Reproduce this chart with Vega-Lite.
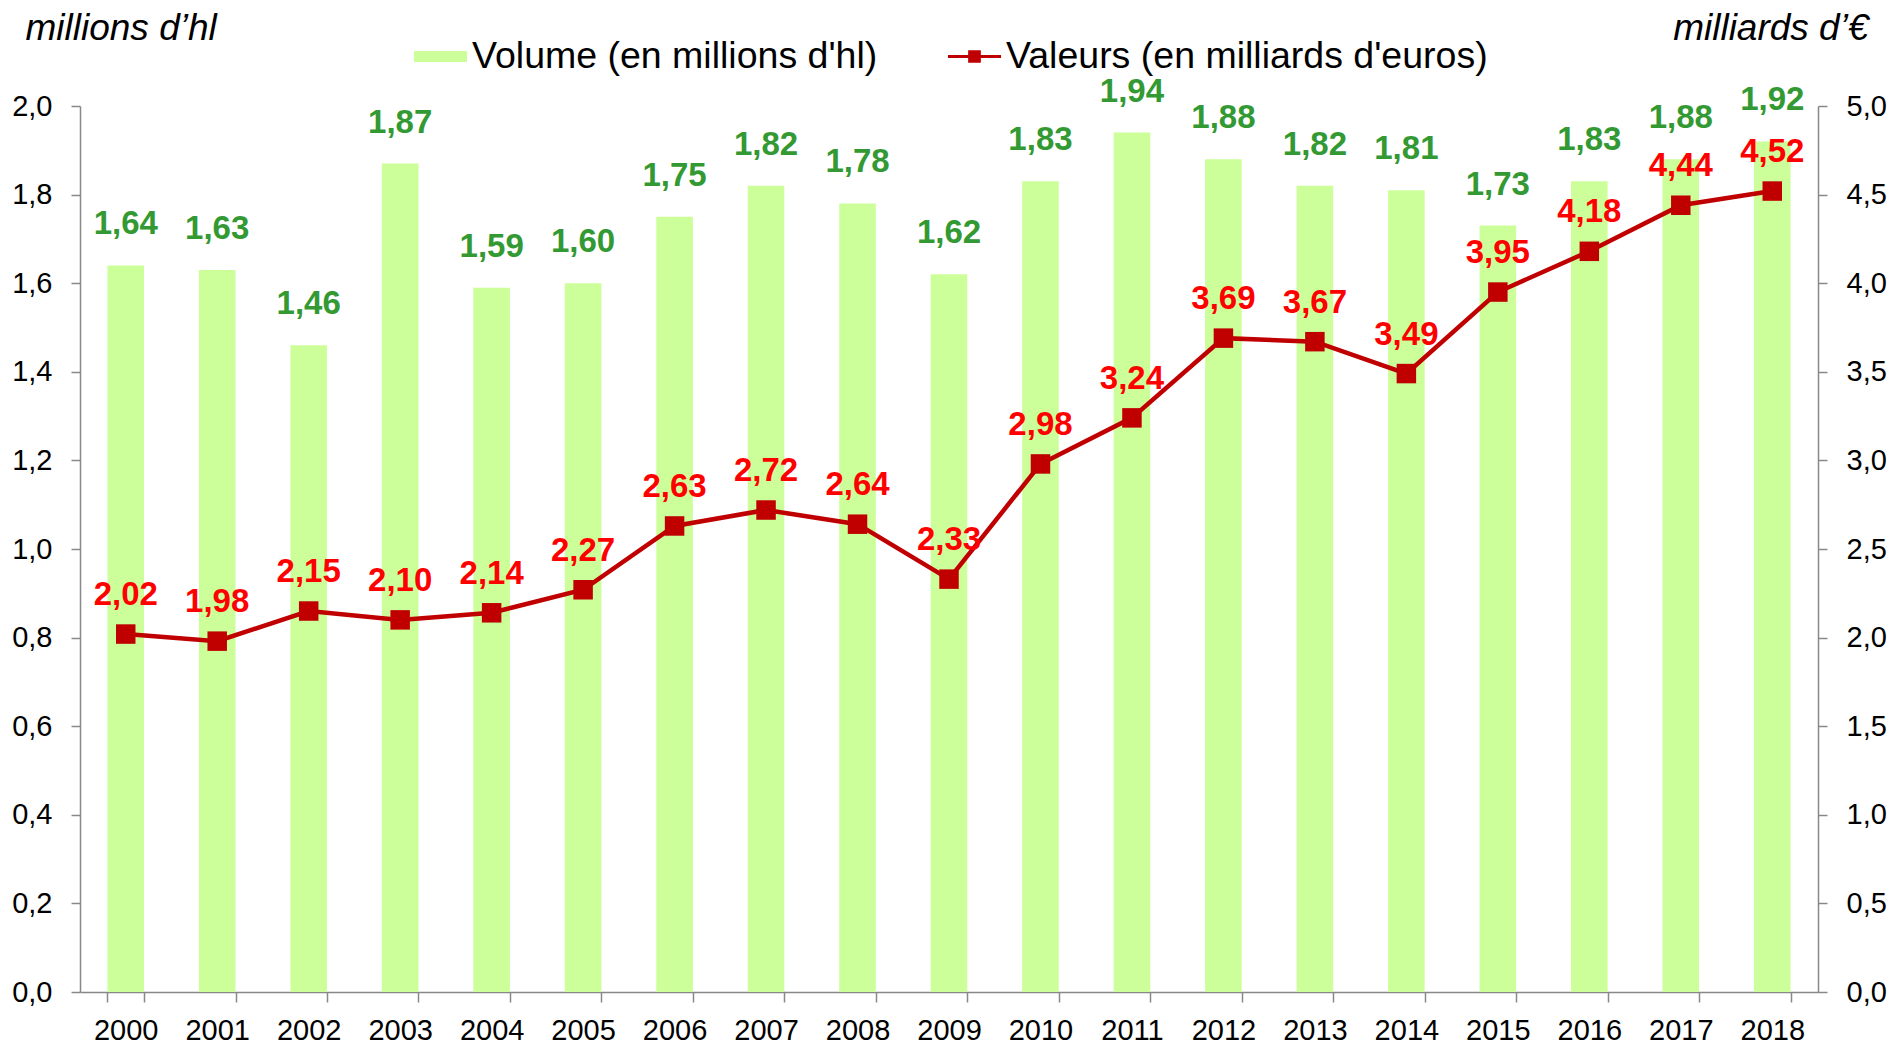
{
  "$schema": "https://vega.github.io/schema/vega-lite/v6.json",
  "width": 1738,
  "height": 886,
  "autosize": {"type": "none"},
  "padding": {"left": 80, "top": 106, "right": 79, "bottom": 52},
  "background": "white",
  "config": {
    "locale": {"number": {"decimal": ",", "thousands": " ", "grouping": [3], "currency": ["", " €"]}},
    "view": {"stroke": null},
    "font": "Liberation Sans"
  },
  "data": {
    "values": [
      {"annee": "2000", "volume": 1.64, "valeur": 2.02},
      {"annee": "2001", "volume": 1.63, "valeur": 1.98},
      {"annee": "2002", "volume": 1.46, "valeur": 2.15},
      {"annee": "2003", "volume": 1.87, "valeur": 2.10},
      {"annee": "2004", "volume": 1.59, "valeur": 2.14},
      {"annee": "2005", "volume": 1.60, "valeur": 2.27},
      {"annee": "2006", "volume": 1.75, "valeur": 2.63},
      {"annee": "2007", "volume": 1.82, "valeur": 2.72},
      {"annee": "2008", "volume": 1.78, "valeur": 2.64},
      {"annee": "2009", "volume": 1.62, "valeur": 2.33},
      {"annee": "2010", "volume": 1.83, "valeur": 2.98},
      {"annee": "2011", "volume": 1.94, "valeur": 3.24},
      {"annee": "2012", "volume": 1.88, "valeur": 3.69},
      {"annee": "2013", "volume": 1.82, "valeur": 3.67},
      {"annee": "2014", "volume": 1.81, "valeur": 3.49},
      {"annee": "2015", "volume": 1.73, "valeur": 3.95},
      {"annee": "2016", "volume": 1.83, "valeur": 4.18},
      {"annee": "2017", "volume": 1.88, "valeur": 4.44},
      {"annee": "2018", "volume": 1.92, "valeur": 4.52}
    ]
  },
  "encoding": {
    "x": {
      "field": "annee",
      "type": "nominal",
      "sort": null,
      "scale": {"paddingInner": 0.6, "paddingOuter": 0.3},
      "axis": {
        "title": null,
        "labelAngle": 0,
        "labelFont": "Liberation Sans",
        "labelFontSize": 29,
        "labelColor": "#000000",
        "labelPadding": 14,
        "labelBaseline": "top",
        "tickBand": "extent",
        "tickSize": 10,
        "tickColor": "#888888",
        "tickWidth": 1.5,
        "domainColor": "#888888",
        "domainWidth": 1.5,
        "grid": false
      }
    }
  },
  "layer": [
    {
      "encoding": {
        "y": {
          "field": "volume",
          "type": "quantitative",
          "scale": {"domain": [0, 2], "nice": false, "zero": true},
          "axis": {
            "orient": "left",
            "values": [0, 0.2, 0.4, 0.6, 0.8, 1.0, 1.2, 1.4, 1.6, 1.8, 2.0],
            "format": ".1f",
            "grid": false,
            "labelFont": "Liberation Sans",
            "labelFontSize": 29,
            "labelColor": "#000000",
            "labelPadding": 19,
            "tickSize": 9,
            "tickColor": "#888888",
            "tickWidth": 1.5,
            "domainColor": "#888888",
            "domainWidth": 1.5,
            "title": "millions d’hl",
            "titleAngle": 0,
            "titleAlign": "left",
            "titleBaseline": "alphabetic",
            "titleX": -55,
            "titleY": -67,
            "titleFont": "Liberation Sans",
            "titleFontSize": 37,
            "titleFontStyle": "italic",
            "titleFontWeight": "normal",
            "titleColor": "#000000"
          }
        }
      },
      "layer": [
        {
          "mark": {"type": "bar"},
          "encoding": {
            "color": {
              "datum": "Volume (en millions d'hl)",
              "type": "nominal",
              "scale": {
                "domain": ["Volume (en millions d'hl)", "Valeurs (en milliards d'euros)"],
                "range": ["#ccff99", "#c00000"]
              },
              "legend": {
                "title": null,
                "orient": "none",
                "direction": "horizontal",
                "legendX": 334,
                "legendY": -76,
                "labelFont": "Liberation Sans",
                "labelFontSize": 37.5,
                "labelColor": "#000000",
                "labelLimit": 0,
                "labelOffset": 5,
                "columnPadding": 70,
                "symbolSize": 2809,
                "symbolStrokeWidth": 0,
                "symbolOpacity": 1,
                "encode": {
                  "symbols": {
                    "update": {
                      "shape": {"signal": "indexof(datum.value, 'Volume') === 0 ? 'M-1,-0.21H1V0.21H-1Z' : 'M-1,-0.06H1V0.06H-1Z M-0.24,-0.24H0.24V0.24H-0.24Z'"},
                      "fill": {"signal": "indexof(datum.value, 'Volume') === 0 ? '#ccff99' : '#c00000'"},
                      "strokeWidth": {"value": 0},
                      "opacity": {"value": 1}
                    }
                  }
                }
              }
            }
          }
        },
        {
          "mark": {
            "type": "text",
            "baseline": "alphabetic",
            "dy": -31,
            "font": "Liberation Sans",
            "fontSize": 33,
            "fontWeight": "bold",
            "color": "#339933"
          },
          "encoding": {
            "text": {"field": "volume", "type": "quantitative", "format": ".2f"}
          }
        }
      ]
    },
    {
      "encoding": {
        "y": {
          "field": "valeur",
          "type": "quantitative",
          "scale": {"domain": [0, 5], "nice": false, "zero": true},
          "axis": {
            "orient": "right",
            "values": [0, 0.5, 1.0, 1.5, 2.0, 2.5, 3.0, 3.5, 4.0, 4.5, 5.0],
            "format": ".1f",
            "grid": false,
            "labelFont": "Liberation Sans",
            "labelFontSize": 29,
            "labelColor": "#000000",
            "labelPadding": 19,
            "tickSize": 9,
            "tickColor": "#888888",
            "tickWidth": 1.5,
            "domainColor": "#888888",
            "domainWidth": 1.5,
            "title": "milliards d’€",
            "titleAngle": 0,
            "titleAlign": "right",
            "titleBaseline": "alphabetic",
            "titleX": 50,
            "titleY": -67,
            "titleFont": "Liberation Sans",
            "titleFontSize": 37,
            "titleFontStyle": "italic",
            "titleFontWeight": "normal",
            "titleColor": "#000000"
          }
        }
      },
      "layer": [
        {
          "mark": {"type": "line", "strokeWidth": 4.5},
          "encoding": {
            "color": {"datum": "Valeurs (en milliards d'euros)", "type": "nominal"}
          }
        },
        {
          "mark": {"type": "point", "shape": "square", "filled": true, "size": 380, "color": "#c00000", "opacity": 1},
          "encoding": {}
        },
        {
          "mark": {
            "type": "text",
            "baseline": "alphabetic",
            "dy": -29,
            "font": "Liberation Sans",
            "fontSize": 33,
            "fontWeight": "bold",
            "color": "#ff0000"
          },
          "encoding": {
            "text": {"field": "valeur", "type": "quantitative", "format": ".2f"}
          }
        }
      ]
    }
  ],
  "resolve": {"scale": {"y": "independent"}}
}
